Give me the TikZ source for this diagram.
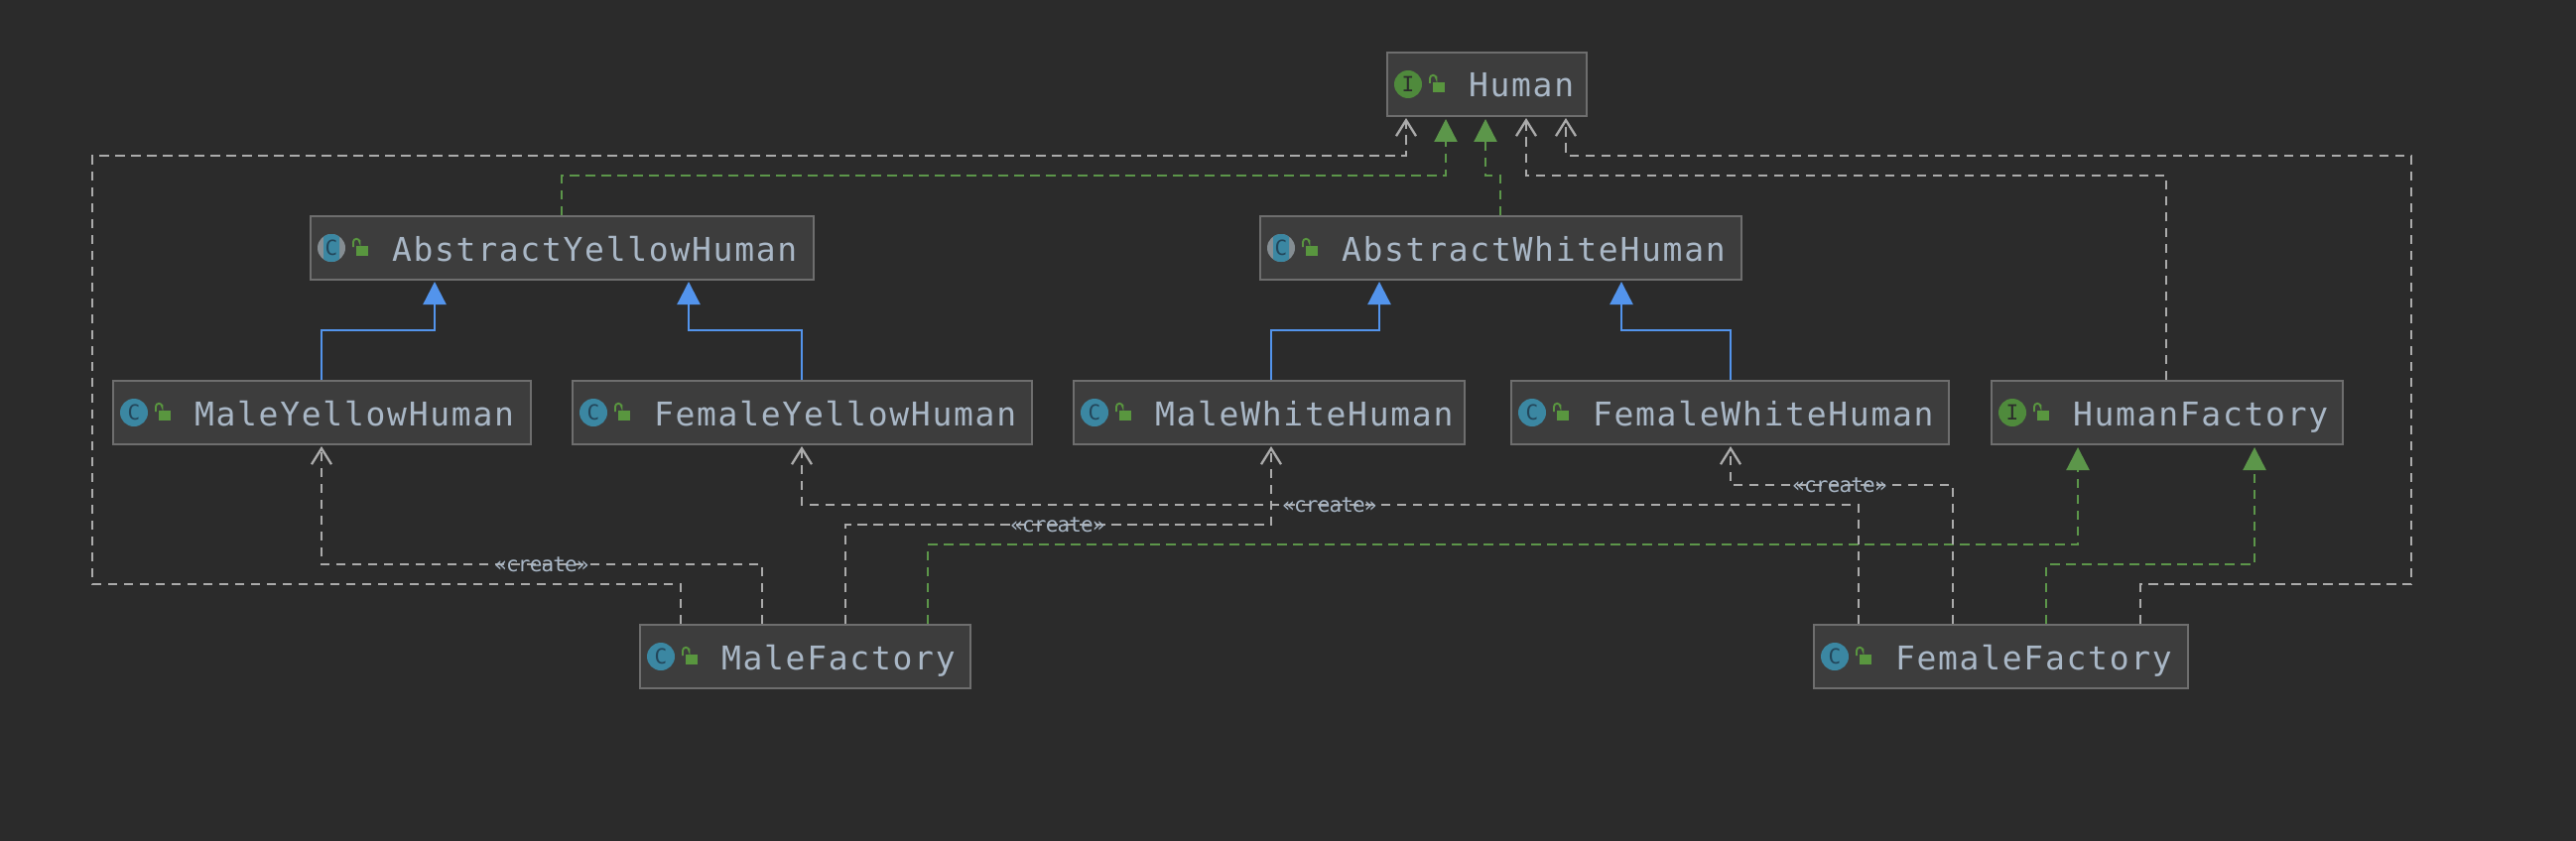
\documentclass[tikz,border=0pt]{standalone}
\usepackage{fontspec}
\usetikzlibrary{arrows.meta}
\newfontfamily\classfont[LetterSpace=5.2]{DejaVu Sans Mono}
\newfontfamily\stereofont[LetterSpace=-4]{DejaVu Sans Mono}
\newfontfamily\glyphfont{DejaVu Sans Mono}
\definecolor{bgc}{HTML}{2B2B2B}
\definecolor{boxfillb}{HTML}{3D3D3D}
\definecolor{boxline}{HTML}{6E6E6E}
\definecolor{txt}{HTML}{A9B7C6}
\definecolor{depc}{HTML}{ABABAB}
\definecolor{implc}{HTML}{5C964A}
\definecolor{extc}{HTML}{5394EC}
\definecolor{iconc}{HTML}{3B87A2}
\definecolor{iconi}{HTML}{4F8A3C}
\definecolor{icong}{HTML}{858D92}
\definecolor{lockc}{HTML}{59963F}
\definecolor{glyphc}{HTML}{23465A}
\tikzset{
  classbox/.style={draw=boxline,fill=boxfillb,line width=2pt,anchor=north west,inner sep=0pt,
    text=txt,text height=45pt,text depth=19pt,font=\fontsize{33}{36}\selectfont\classfont},
  depline/.style={draw=depc,line width=2.3pt,dash pattern=on 9.5pt off 6.5pt,
    -{Straight Barb[width=20pt,length=16pt,line width=2.3pt]},shorten >=1pt},
  implline/.style={draw=implc,line width=2.3pt,dash pattern=on 9.5pt off 6.5pt,
    -{Triangle[width=23pt,length=23pt,fill=implc]},shorten >=2pt},
  extline/.style={draw=extc,line width=2.3pt,-{Triangle[width=23pt,length=23pt,fill=extc]},shorten >=1pt},
  stereo/.style={text=txt,inner sep=0pt,font=\fontsize{21}{24}\selectfont\stereofont},
  iconglyph/.style={text=glyphc,inner sep=0pt,font=\fontsize{21}{24}\selectfont\glyphfont},
  lockbody/.style={fill=lockc,draw=none},
  lockbar/.style={draw=lockc,line width=1.9pt}
}
\newcommand{\lockicon}[1]{%
  \fill[lockbody] ([xshift=47pt,yshift=-31pt]#1.north west) rectangle ++(12,10);
  \draw[lockbar] ([xshift=44pt,yshift=-32pt]#1.north west) -- ++(0,-5) arc[start angle=180,end angle=0,radius=3.2pt] -- ++(0,-2);
}
\newcommand{\classnode}[6]{% id, x, y, w, text, icon kind
  \node[classbox] (#1) at (#2,#3) {\makebox[#4pt][l]{\hspace{82pt}#5}};
  \ifnum#6=0
    \fill[iconc] ([xshift=22pt,yshift=-33pt]#1.north west) circle[radius=14pt];
    \node[iconglyph] (#1-g) at ([xshift=22pt,yshift=-33pt]#1.north west) {C};
  \fi
  \ifnum#6=1
    \fill[iconi] ([xshift=22pt,yshift=-33pt]#1.north west) circle[radius=14pt];
    \node[iconglyph,text=bgc] (#1-g) at ([xshift=22pt,yshift=-33pt]#1.north west) {I};
  \fi
  \ifnum#6=2
    \fill[icong] ([xshift=22pt,yshift=-33pt]#1.north west) circle[radius=14pt];
    \begin{scope}
      \clip ([xshift=14pt,yshift=-15pt]#1.north west) rectangle ([xshift=30pt,yshift=-51pt]#1.north west);
      \fill[iconc] ([xshift=22pt,yshift=-33pt]#1.north west) circle[radius=14pt];
    \end{scope}
    \node[iconglyph] (#1-g) at ([xshift=22pt,yshift=-33pt]#1.north west) {C};
  \fi
  \lockicon{#1}
}
\begin{document}
\begin{tikzpicture}[x=1pt,y=-1pt]
\useasboundingbox[fill=bgc] (0,0) rectangle (2596,848);
\classnode{hu}{1397}{52}{200.5}{Human}{1}
\classnode{ay}{312}{217}{507}{AbstractYellowHuman}{2}
\classnode{aw}{1269}{217}{485}{AbstractWhiteHuman}{2}
\classnode{my}{113}{383}{420.5}{MaleYellowHuman}{0}
\classnode{fy}{576}{383}{463}{FemaleYellowHuman}{0}
\classnode{mw}{1081}{383}{393.5}{MaleWhiteHuman}{0}
\classnode{fw}{1522}{383}{441}{FemaleWhiteHuman}{0}
\classnode{hf}{2006}{383}{353.5}{HumanFactory}{1}
\classnode{mf}{644}{629}{332.5}{MaleFactory}{0}
\classnode{ff}{1827}{629}{376.5}{FemaleFactory}{0}
% extends
\draw[extline] ([xshift=211pt]my.north west) -- (324,333) -- (438,333) -- ([xshift=126pt]ay.south west);
\draw[extline] ([xshift=232pt]fy.north west) -- (808,333) -- (694,333) -- ([xshift=382pt]ay.south west);
\draw[extline] ([xshift=200pt]mw.north west) -- (1281,333) -- (1390,333) -- ([xshift=121pt]aw.south west);
\draw[extline] ([xshift=222pt]fw.north west) -- (1744,333) -- (1634,333) -- ([xshift=365pt]aw.south west);
% implements
\draw[implline] ([xshift=254pt]ay.north west) -- (566,177) -- (1457,177) -- ([xshift=60pt]hu.south west);
\draw[implline] ([xshift=243pt]aw.north west) -- (1512,177) -- (1497,177) -- ([xshift=100pt]hu.south west);
\draw[implline] ([xshift=291pt]mf.north west) -- (935,549) -- (2094,549) -- ([xshift=88pt]hf.south west);
\draw[implline] ([xshift=235pt]ff.north west) -- (2062,569) -- (2272,569) -- ([xshift=266pt]hf.south west);
% dependencies
\draw[depline] ([xshift=42pt]mf.north west) -- (686,589) -- (93,589) -- (93,157) -- (1417,157) -- ([xshift=20pt]hu.south west);
\draw[depline] ([xshift=330pt]ff.north west) -- (2157,589) -- (2430,589) -- (2430,157) -- (1578,157) -- ([xshift=181pt]hu.south west);
\draw[depline] ([xshift=177pt]hf.north west) -- (2183,177) -- (1538,177) -- ([xshift=141pt]hu.south west);
\draw[depline] ([xshift=124pt]mf.north west) -- (768,569) -- (324,569) -- ([xshift=211pt]my.south west);
\draw[depline] ([xshift=208pt]mf.north west) -- (852,529) -- (1281,529) -- ([xshift=200pt]mw.south west);
\draw[depline] ([xshift=46pt]ff.north west) -- (1873,509) -- (808,509) -- ([xshift=232pt]fy.south west);
\draw[depline] ([xshift=141pt]ff.north west) -- (1968,489) -- (1744,489) -- ([xshift=222pt]fw.south west);
% stereotypes
\node[stereo] (c1) at (546,569) {«create»};
\node[stereo] (c2) at (1066,529) {«create»};
\node[stereo] (c3) at (1340,509) {«create»};
\node[stereo] (c4) at (1854,489) {«create»};
\end{tikzpicture}
\end{document}
